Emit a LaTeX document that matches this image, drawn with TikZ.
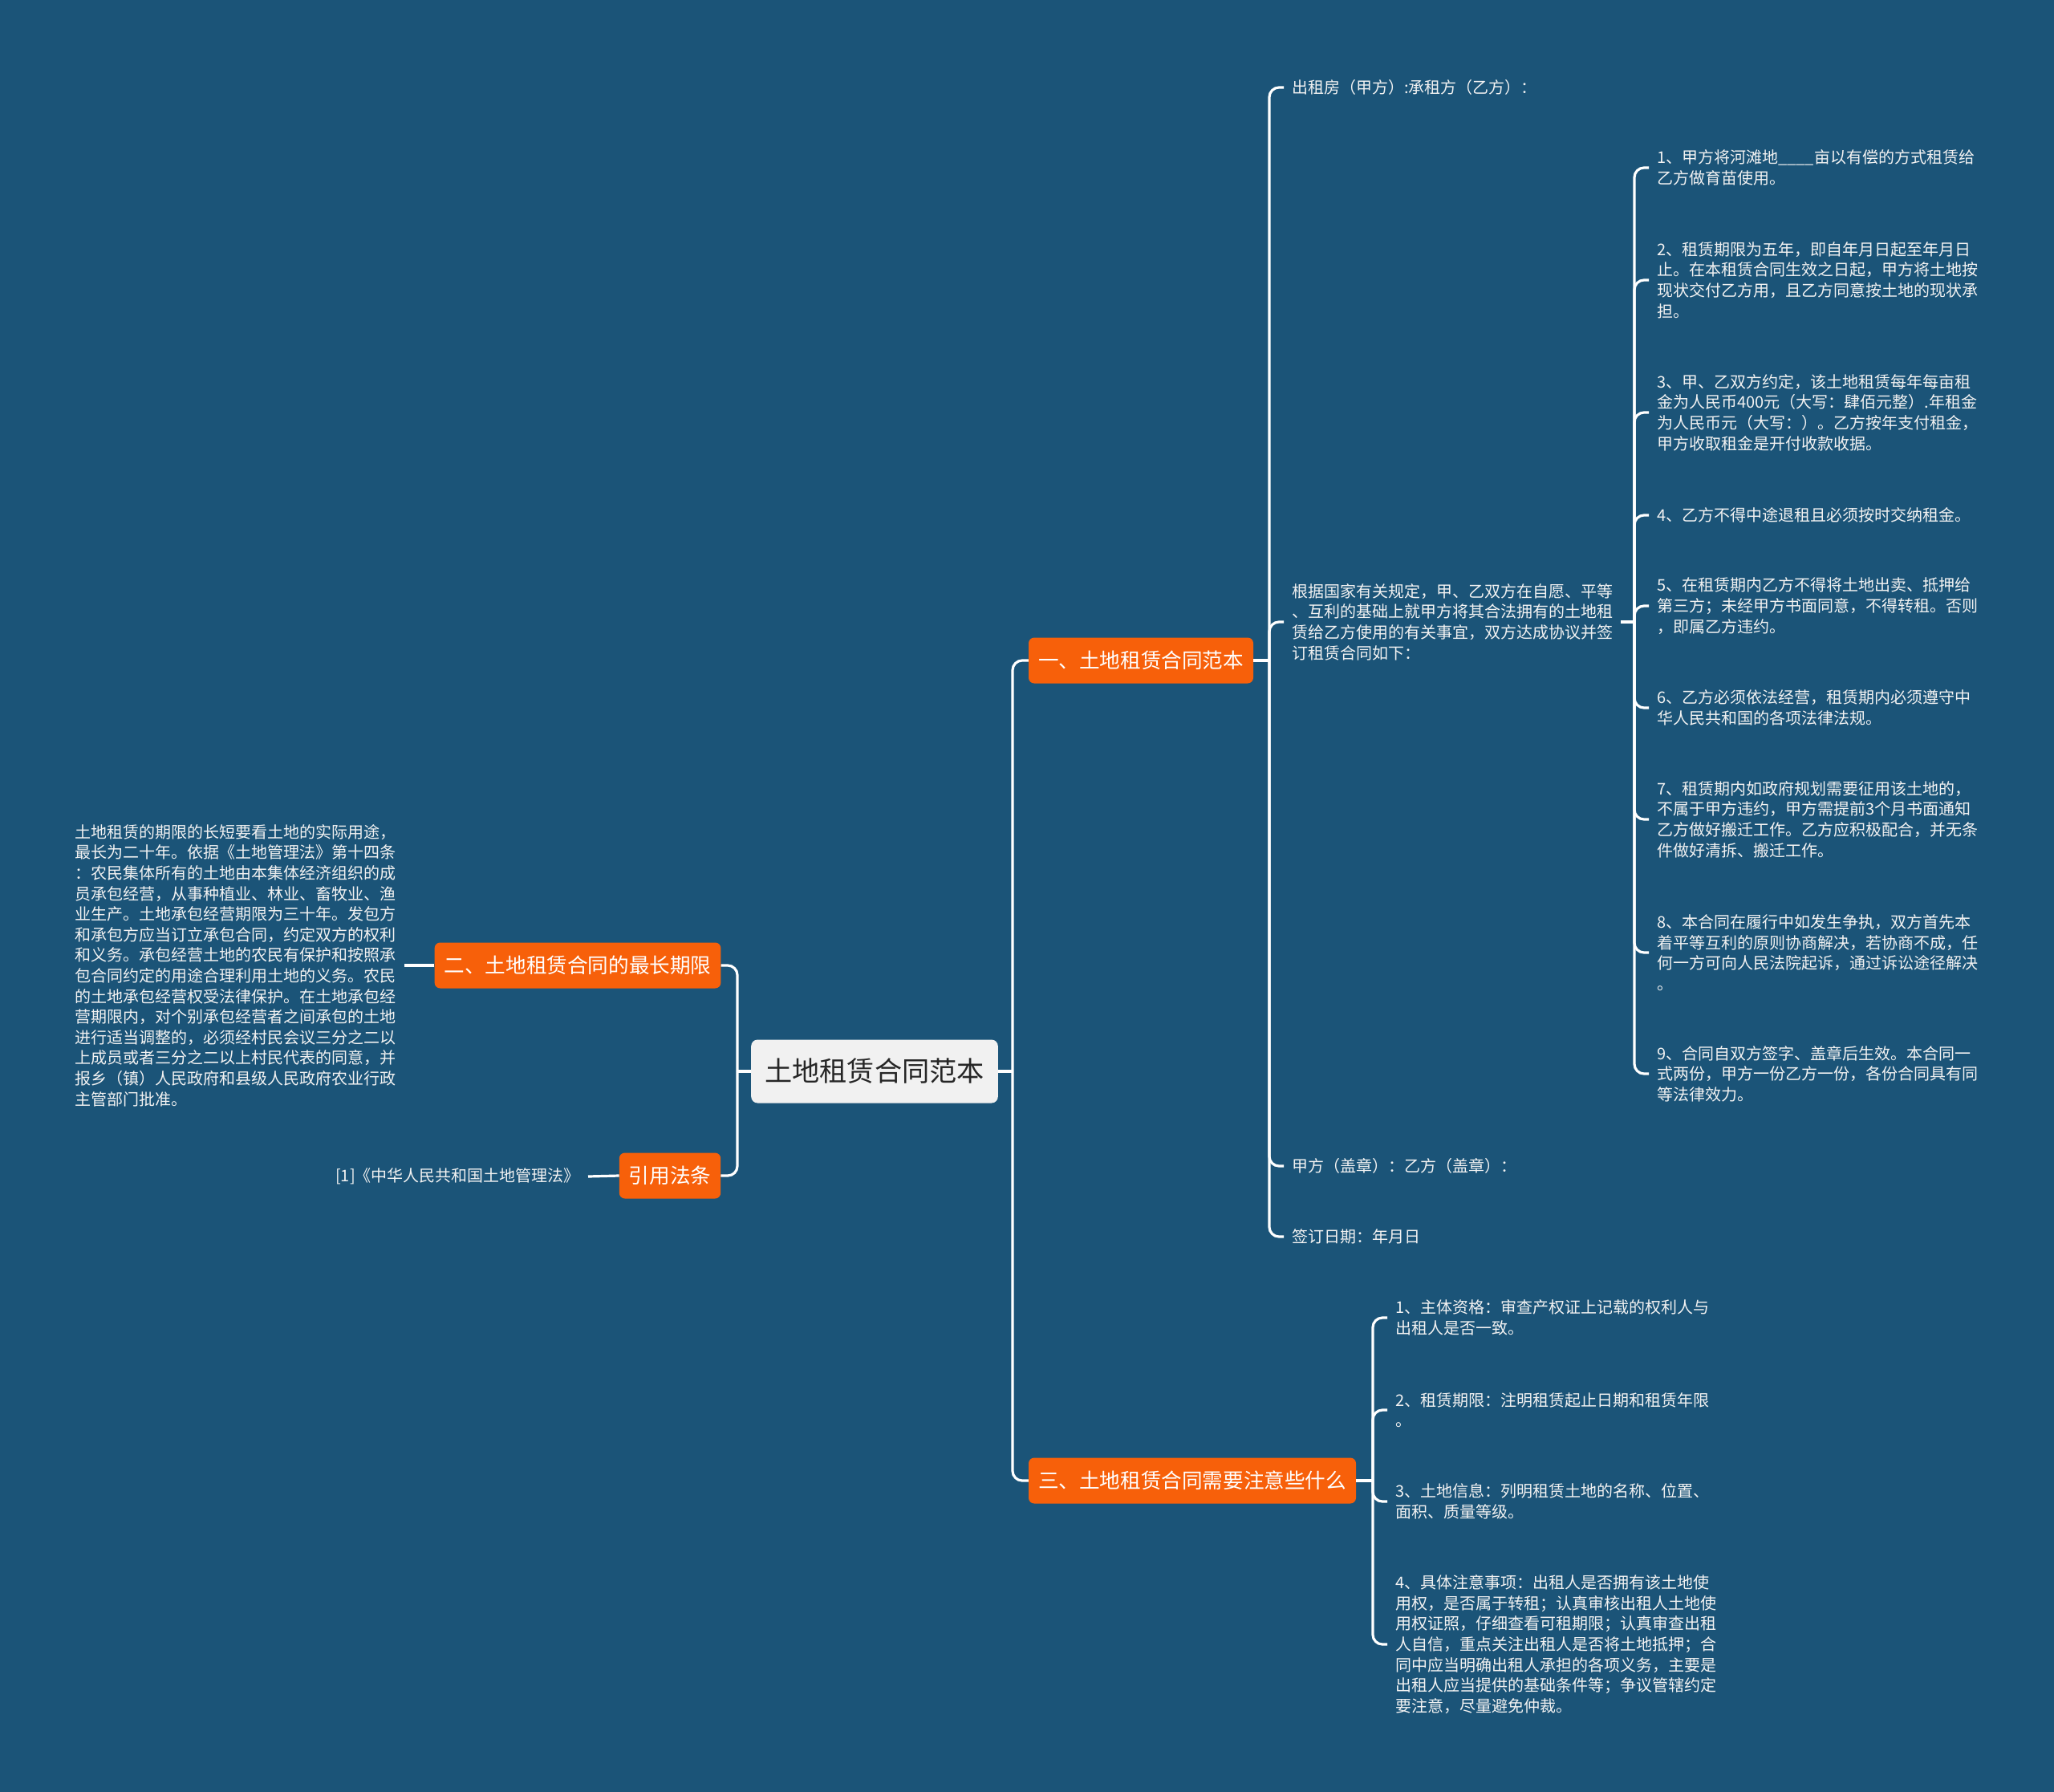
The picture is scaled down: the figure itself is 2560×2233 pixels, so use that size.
\documentclass[tikz,border=0pt]{standalone}
\usepackage{fontspec}
\setmainfont{Noto Sans CJK SC}
\usepackage{tikz}
\usetikzlibrary{positioning}
\definecolor{bgblue}{RGB}{27,84,120}
\definecolor{brorange}{RGB}{247,96,10}
\definecolor{rootfill}{RGB}{241,241,241}
\definecolor{rootink}{RGB}{38,38,38}
\definecolor{leafink}{RGB}{242,242,242}
\tikzset{
  rootbox/.style={rounded corners=8pt,fill=rootfill,text=rootink,
    minimum height=79pt,inner xsep=17pt,font=\fontsize{34.2}{40}\selectfont},
  branch/.style={rounded corners=7pt,fill=brorange,text=white,
    minimum height=57pt,inner xsep=12pt,font=\fontsize{25.6}{30}\selectfont},
  leaf/.style={text=leafink,align=left,inner xsep=10pt,inner ysep=4pt,
    font=\fontsize{20}{25.6}\selectfont},
  link/.style={draw=white,line width=3.2pt,rounded corners=12pt},
}

\begin{document}
\begin{tikzpicture}[x=1pt,y=-1pt]
  \fill[bgblue] (0,0) rectangle (2560,2233);
  \useasboundingbox (0,0) rectangle (2560,2233);
  % root and main branches
  \node[rootbox] (root) at (1090,1335) {土地租赁合同范本};
  \node[branch] (br1) at (1422,823) {一、土地租赁合同范本};
  \node[branch] (br2) at (720,1203) {二、土地租赁合同的最长期限};
  \node[branch] (br3) at (1486,1845) {三、土地租赁合同需要注意些什么};
  \node[branch] (br4) at (835,1465) {引用法条};
  % branch one
  \node[leaf,anchor=west] (p0) at (1600,109) {出租房（甲方）:承租方（乙方）：};
  \node[leaf,anchor=west] (p1) at (1600,775) {根据国家有关规定，甲、乙双方在自愿、平等\\、互利的基础上就甲方将其合法拥有的土地租\\赁给乙方使用的有关事宜，双方达成协议并签\\订租赁合同如下：};
  \node[leaf,anchor=west] (p2) at (1600,1453) {甲方（盖章）：乙方（盖章）：};
  \node[leaf,anchor=west] (p3) at (1600,1541) {签订日期：年月日};
  \node[leaf,anchor=west] (q1) at (2055,209) {1、甲方将河滩地\_\_\_\_亩以有偿的方式租赁给\\乙方做育苗使用。};
  \node[leaf,anchor=west] (q2) at (2055,349) {2、租赁期限为五年，即自年月日起至年月日\\止。在本租赁合同生效之日起，甲方将土地按\\现状交付乙方用，且乙方同意按土地的现状承\\担。};
  \node[leaf,anchor=west] (q3) at (2055,514) {3、甲、乙双方约定，该土地租赁每年每亩租\\金为人民币400元（大写：肆佰元整）.年租金\\为人民币元（大写：）。乙方按年支付租金，\\甲方收取租金是开付收款收据。};
  \node[leaf,anchor=west] (q4) at (2055,642) {4、乙方不得中途退租且必须按时交纳租金。};
  \node[leaf,anchor=west] (q5) at (2055,755) {5、在租赁期内乙方不得将土地出卖、抵押给\\第三方；未经甲方书面同意，不得转租。否则\\，即属乙方违约。};
  \node[leaf,anchor=west] (q6) at (2055,882) {6、乙方必须依法经营，租赁期内必须遵守中\\华人民共和国的各项法律法规。};
  \node[leaf,anchor=west] (q7) at (2055,1021) {7、租赁期内如政府规划需要征用该土地的，\\不属于甲方违约，甲方需提前3个月书面通知\\乙方做好搬迁工作。乙方应积极配合，并无条\\件做好清拆、搬迁工作。};
  \node[leaf,anchor=west] (q8) at (2055,1187) {8、本合同在履行中如发生争执，双方首先本\\着平等互利的原则协商解决，若协商不成，任\\何一方可向人民法院起诉，通过诉讼途径解决\\。};
  \node[leaf,anchor=west] (q9) at (2055,1338) {9、合同自双方签字、盖章后生效。本合同一\\式两份，甲方一份乙方一份，各份合同具有同\\等法律效力。};
  % branch three
  \node[leaf,anchor=west] (r1) at (1729,1642) {1、主体资格：审查产权证上记载的权利人与\\出租人是否一致。};
  \node[leaf,anchor=west] (r2) at (1729,1757) {2、租赁期限：注明租赁起止日期和租赁年限\\。};
  \node[leaf,anchor=west] (r3) at (1729,1871) {3、土地信息：列明租赁土地的名称、位置、\\面积、质量等级。};
  \node[leaf,anchor=west] (r4) at (1729,2049) {4、具体注意事项：出租人是否拥有该土地使\\用权，是否属于转租；认真审核出租人土地使\\用权证照，仔细查看可租期限；认真审查出租\\人自信，重点关注出租人是否将土地抵押；合\\同中应当明确出租人承担的各项义务，主要是\\出租人应当提供的基础条件等；争议管辖约定\\要注意，尽量避免仲裁。};
  % left side
  \node[leaf,anchor=east] (s1) at (504,1203) {土地租赁的期限的长短要看土地的实际用途，\\最长为二十年。依据《土地管理法》第十四条\\：农民集体所有的土地由本集体经济组织的成\\员承包经营，从事种植业、林业、畜牧业、渔\\业生产。土地承包经营期限为三十年。发包方\\和承包方应当订立承包合同，约定双方的权利\\和义务。承包经营土地的农民有保护和按照承\\包合同约定的用途合理利用土地的义务。农民\\的土地承包经营权受法律保护。在土地承包经\\营期限内，对个别承包经营者之间承包的土地\\进行适当调整的，必须经村民会议三分之二以\\上成员或者三分之二以上村民代表的同意，并\\报乡（镇）人民政府和县级人民政府农业行政\\主管部门批准。};
  \node[leaf,anchor=east] (law) at (733,1466) {[1]《中华人民共和国土地管理法》};
  % connectors
  \coordinate (jr) at (1262,1335);
  \coordinate (jl) at (919,1335);
  \coordinate (j1) at (1582,823);
  \coordinate (j2) at (2037,775);
  \coordinate (j3) at (1711,1845);
  \draw[link] (root.east) -- (jr);
  \foreach \n in {br1,br3}{\draw[link] (jr) |- (\n.west);}
  \draw[link] (root.west) -- (jl);
  \foreach \n in {br2,br4}{\draw[link] (jl) |- (\n.east);}
  \draw[link] (br1.east) -- (j1);
  \foreach \n in {p0,p1,p2,p3}{\draw[link] (j1) |- (\n.west);}
  \draw[link] (p1.east) -- (j2);
  \foreach \n in {q1,q2,q3,q4,q5,q6,q7,q8,q9}{\draw[link] (j2) |- (\n.west);}
  \draw[link] (br3.east) -- (j3);
  \foreach \n in {r1,r2,r3,r4}{\draw[link] (j3) |- (\n.west);}
  \draw[link] (br2.west) -- (s1.east);
  \draw[link] (br4.west) -- (law.east);
\end{tikzpicture}
\end{document}
